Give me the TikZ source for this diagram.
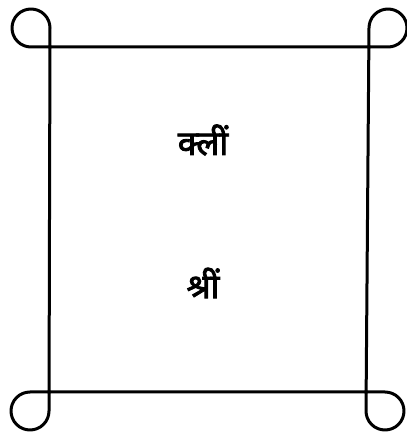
\documentclass[tikz,border=0pt]{standalone}
\usepackage{fontspec}
\newfontfamily\devfont[Script=Devanagari, FakeBold=2.5]{Noto Sans}
\usetikzlibrary{calc}

\begin{document}
\begin{tikzpicture}[
  x=1pt, y=1pt,
  bija/.style={font=\devfont\fontsize{34}{38}\selectfont, inner sep=0pt},
  frameline/.style={draw=black, line width=3pt, line join=round, line cap=round}]

\useasboundingbox (0,0) rectangle (407,440);

\def\r{19}
\coordinate (tl) at (50,393);
\coordinate (tr) at (369,393);
\coordinate (bl) at (49,48);
\coordinate (br) at (366,48);

\node[bija] (kleem)  at (203,300) {क्लीं};
\node[bija] (shreem) at (203,157) {श्रीं};

%% frame with a loop at each corner
\draw[frameline] ($(tl)+(0,\r)$) arc[start angle=0, end angle=270, radius=\r]
    -- ($(tr)+(\r,0)$) arc[start angle=-90, end angle=180, radius=\r]
    -- ($(br)+(0,-\r)$) arc[start angle=180, end angle=450, radius=\r]
    -- ($(bl)+(-\r,0)$) arc[start angle=90, end angle=360, radius=\r]
    -- cycle;
\end{tikzpicture}
\end{document}
